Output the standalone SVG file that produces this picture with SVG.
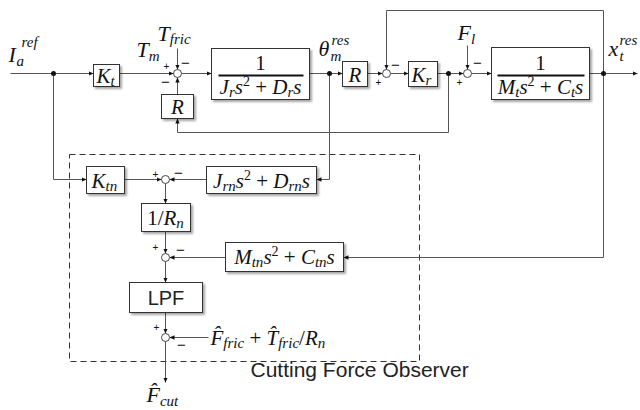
<svg xmlns="http://www.w3.org/2000/svg" width="640" height="410" viewBox="0 0 640 410">
<style>
.box{fill:#fff;stroke:#333;stroke-width:1;filter:url(#sh)}
.ln{fill:none;stroke:#555;stroke-width:1;marker-end:url(#ar)}
.sum{fill:#fff;stroke:#444;stroke-width:1}
.dot{fill:#111}
.m{font-family:"Liberation Serif","DejaVu Serif",serif;font-style:italic;font-size:21px;fill:#111}
.lb{font-family:"Liberation Serif","DejaVu Serif",serif;font-style:italic;font-size:22px;fill:#111}
.u{font-style:normal}
.sb{font-size:15px}
.sp{font-size:14px;font-style:normal}
.pl{font-family:"Liberation Sans",Arial,sans-serif;font-size:10px;fill:#111;text-anchor:middle}
.mi{font-family:"Liberation Sans",Arial,sans-serif;font-size:15px;fill:#111;text-anchor:middle}
.ss{font-family:"Liberation Sans",Arial,sans-serif;fill:#222}
.frac{stroke:#111;stroke-width:2}
.dash{fill:none;stroke:#333;stroke-width:1;stroke-dasharray:6,4}
</style>
<defs>
<filter id="sh" x="-10%" y="-10%" width="130%" height="140%">
<feDropShadow dx="2" dy="2" stdDeviation="1" flood-color="#000" flood-opacity="0.35"/>
</filter>
<marker id="ar" markerWidth="6" markerHeight="6" refX="5" refY="3" orient="auto" markerUnits="userSpaceOnUse">
<path d="M0,0.8 L5,3 L0,5.2 Z" fill="#111"/>
</marker>
</defs>
<g transform="translate(0.5,0.5)">
<rect class="dash" x="69" y="154" width="350" height="207"/>

<g id="connectors">
<path class="ln" d="M10,73 H93"/>
<path class="ln" d="M119,73 H173"/>
<path class="ln" d="M177,48 V69"/>
<path class="ln" d="M177,94 V77"/>
<path class="ln" d="M181,73 H211"/>
<path class="ln" d="M309,73 H342"/>
<path class="ln" d="M367,73 H382"/>
<path class="ln" d="M603,73 V10 H386 V69"/>
<path class="ln" d="M390,73 H408"/>
<path class="ln" d="M437,73 H463"/>
<path class="ln" d="M467,45 V69"/>
<path class="ln" d="M471,73 H491"/>
<path class="ln" d="M589,73 H637"/>
<path class="ln" d="M448,73 V132 H177 V118"/>
<path class="ln" d="M329,73 V179 H316"/>
<path class="ln" d="M53,73 V179 H86"/>
<path class="ln" d="M124,179 H161"/>
<path class="ln" d="M206,179 H169"/>
<path class="ln" d="M165,183 V203"/>
<path class="ln" d="M165,231 V253"/>
<path class="ln" d="M225,257 H169"/>
<path class="ln" d="M603,73 V257 H343"/>
<path class="ln" d="M165,261 V282"/>
<path class="ln" d="M165,312 V333"/>
<path class="ln" d="M208,337 H169"/>
<path class="ln" d="M165,341 V382"/>
<circle class="dot" cx="53" cy="73" r="2.5"/>
<circle class="dot" cx="329" cy="73" r="2.5"/>
<circle class="dot" cx="448" cy="73" r="2.5"/>
<circle class="dot" cx="603" cy="73" r="2.5"/>
</g>

<g id="label-Iaref">
<text class="lb" x="8" y="61">I</text>
<text class="m" x="16" y="65" style="font-size:15px">a</text>
<text class="m" x="21" y="46" style="font-size:15px">ref</text>
</g>
<g id="label-Tm"><text class="lb" x="136" y="56">T<tspan dy="4" style="font-size:15px">m</tspan></text></g>
<g id="label-Tfric"><text class="lb" x="157" y="40">T<tspan dy="3" style="font-size:15px">fric</tspan></text></g>
<g id="label-theta">
<text class="lb" x="318" y="55">θ</text>
<text class="m" x="330" y="60" style="font-size:15px">m</text>
<text class="m" x="331" y="44" style="font-size:15px">res</text>
</g>
<g id="label-Fl"><text class="lb" x="457" y="39">F<tspan dy="4" style="font-size:15px">l</tspan></text></g>
<g id="label-xt">
<text class="lb" x="608" y="55">x</text>
<text class="m" x="619" y="60" style="font-size:15px">t</text>
<text class="m" x="619" y="44" style="font-size:15px">res</text>
</g>

<g id="Kt">
<rect class="box" x="93" y="64" width="26" height="22"/>
<text class="m" x="96" y="82">K<tspan class="sb" dy="3">t</tspan></text>
</g>
<g id="sum1">
<circle class="sum" cx="177" cy="73" r="4"/>
<text class="pl" x="166" y="69">+</text>
<text class="mi" x="185" y="67">−</text>
<text class="mi" x="165" y="86">−</text>
</g>
<g id="R1">
<rect class="box" x="161" y="94" width="32" height="24"/>
<text class="m" x="177" y="113" text-anchor="middle">R</text>
</g>
<g id="plant-rotor">
<rect class="box" x="211" y="48" width="98" height="51"/>
<text class="m u" x="260" y="69" text-anchor="middle">1</text>
<line class="frac" x1="218" y1="75" x2="303" y2="75"/>
<text class="m" x="260" y="93" text-anchor="middle">J<tspan class="sb" dy="3">r</tspan><tspan dy="-3">s</tspan><tspan class="sp" dy="-8">2</tspan><tspan class="u" dy="8"> + </tspan>D<tspan class="sb" dy="3">r</tspan><tspan dy="-3">s</tspan></text>
</g>
<g id="R2">
<rect class="box" x="342" y="61" width="25" height="25"/>
<text class="m" x="354.5" y="81" text-anchor="middle">R</text>
</g>
<g id="sum2">
<circle class="sum" cx="386" cy="73" r="4"/>
<text class="mi" x="395" y="69">−</text>
<text class="pl" x="378" y="85">+</text>
</g>
<g id="Kr">
<rect class="box" x="408" y="61" width="29" height="25"/>
<text class="m" x="411" y="81">K<tspan class="sb" dy="3">r</tspan></text>
</g>
<g id="sum3">
<circle class="sum" cx="467" cy="73" r="4"/>
<text class="mi" x="477" y="67">−</text>
<text class="pl" x="459" y="85">+</text>
</g>
<g id="plant-table">
<rect class="box" x="491" y="47" width="98" height="52"/>
<text class="m u" x="540" y="69" text-anchor="middle">1</text>
<line class="frac" x1="497" y1="75" x2="584" y2="75"/>
<text class="m" x="540" y="93" text-anchor="middle">M<tspan class="sb" dy="3">t</tspan><tspan dy="-3">s</tspan><tspan class="sp" dy="-8">2</tspan><tspan class="u" dy="8"> + </tspan>C<tspan class="sb" dy="3">t</tspan><tspan dy="-3">s</tspan></text>
</g>

<g id="Ktn">
<rect class="box" x="86" y="166" width="38" height="27"/>
<text class="m" x="91" y="187">K<tspan class="sb" dy="3">tn</tspan></text>
</g>
<g id="sum4">
<circle class="sum" cx="165" cy="179" r="4"/>
<text class="pl" x="155" y="177">+</text>
<text class="mi" x="178" y="177">−</text>
</g>
<g id="Jrn">
<rect class="box" x="206" y="166" width="110" height="27"/>
<text class="m" x="261" y="187" text-anchor="middle">J<tspan class="sb" dy="3">rn</tspan><tspan dy="-3">s</tspan><tspan class="sp" dy="-8">2</tspan><tspan class="u" dy="8"> + </tspan>D<tspan class="sb" dy="3">rn</tspan><tspan dy="-3">s</tspan></text>
</g>
<g id="invRn">
<rect class="box" x="141" y="203" width="49" height="28"/>
<text class="m" x="165" y="224" text-anchor="middle"><tspan class="u">1/</tspan>R<tspan class="sb" dy="3">n</tspan></text>
</g>
<g id="sum5">
<circle class="sum" cx="165" cy="257" r="4"/>
<text class="pl" x="155" y="250">+</text>
<text class="mi" x="180" y="254">−</text>
</g>
<g id="Mtn">
<rect class="box" x="225" y="242" width="118" height="29"/>
<text class="m" x="284" y="263" text-anchor="middle">M<tspan class="sb" dy="3">tn</tspan><tspan dy="-3">s</tspan><tspan class="sp" dy="-8">2</tspan><tspan class="u" dy="8"> + </tspan>C<tspan class="sb" dy="3">tn</tspan><tspan dy="-3">s</tspan></text>
</g>
<g id="LPF">
<rect class="box" x="129" y="282" width="73" height="30"/>
<text class="ss" x="165.5" y="304" text-anchor="middle" font-size="20">LPF</text>
</g>
<g id="sum6">
<circle class="sum" cx="165" cy="337" r="4"/>
<text class="pl" x="156" y="330">+</text>
<text class="mi" x="181" y="349">−</text>
</g>
<g id="label-fric-est">
<text class="m" x="210" y="344">F&#x302;<tspan class="sb" dy="3">fric</tspan><tspan class="u" dy="-3"> + </tspan>T&#x302;<tspan class="sb" dy="3">fric</tspan><tspan class="u" dy="-3">/</tspan>R<tspan class="sb" dy="3">n</tspan></text>
</g>
<g id="label-Fcut">
<text class="lb" x="146" y="401">F&#x302;<tspan dy="4" style="font-size:15px">cut</tspan></text>
</g>
<text class="ss" x="250" y="376" font-size="21">Cutting Force Observer</text>
</g>
</svg>
